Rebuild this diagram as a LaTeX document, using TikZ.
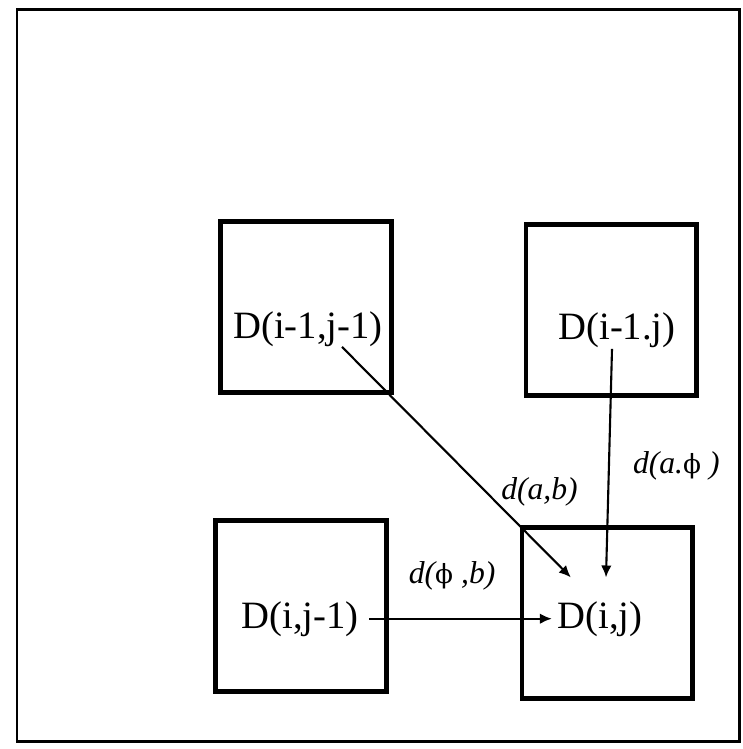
\documentclass[tikz,border=0pt]{standalone}
\usepackage{fontspec}
\setmainfont{Liberation Serif}
\newfontfamily\phifont{DejaVu Serif}
\usetikzlibrary{arrows.meta, positioning}

\begin{document}
\begin{tikzpicture}[
  x=0.01cm, y=-0.01cm,
  cell/.style={rectangle, draw, line width=1.4pt,
               minimum width=1.7cm, minimum height=1.7cm},
  val/.style={inner sep=0pt, anchor=base, font=\fontsize{11}{13}\selectfont},
  cost/.style={inner sep=0pt, font=\fontsize{9}{11}\selectfont\itshape},
  arr/.style={-{Latex[length=3.4pt, width=3pt]}, line width=0.6pt},
  frame/.style={draw, line width=0.85pt}
]
\useasboundingbox (0,0) rectangle (743,749);
\draw[frame] (17,10) rectangle (739,741);

% the four cells of the table
\node[cell] (c11) at (306,307) {};
\node[cell] (c12) at (611,310) {};
\node[cell] (c21) at (301,606) {};
\node[cell] (c22) at (607,613) {};

\node[val] (t11) at (308,338) {D(i-1,j-1)};
\node[val] (t12) at (617,340) {D(i-1.j)};
\node[val] (t21) at (300,628) {D(i,j-1)};
\node[val] (t22) at (600,628) {D(i,j)};

\draw[arr] ([xshift=0.34cm]t11.south) --
  node[cost, pos=0.63, right=0.14cm] {d(a,b)}
  ([xshift=0.14cm, yshift=0.23cm]t22.north west);
\draw[arr] ([xshift=-0.05cm]t12.south) --
  node[cost, pos=0.51, right=0.23cm] {d(a.{\upshape\phifont\fontsize{7.5}{9}\selectfont ϕ} )}
  ([xshift=0.06cm, yshift=0.23cm]t22.north);
\draw[arr, shorten <=0.1cm, shorten >=0.05cm] (t21) --
  node[cost, pos=0.47, above=0.27cm] {d({\upshape\phifont\fontsize{7.5}{9}\selectfont ϕ} ,b)}
  (t22);
\end{tikzpicture}
\end{document}
